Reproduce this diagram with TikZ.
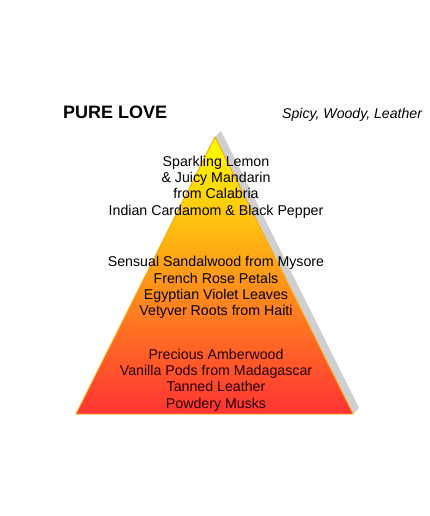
\documentclass[tikz,border=0pt]{standalone}
\usepackage{fontspec}
\setmainfont{Liberation Sans}
\begin{document}
\begin{tikzpicture}[x=1pt,y=-1pt,
  notes/.style={align=center,font=\fontsize{14.2}{16.3}\selectfont,text=black,inner sep=0pt},
  title/.style={anchor=base west,inner sep=0pt}]
\useasboundingbox[fill=white] (0,0) rectangle (430,516);
% shadow
\fill[gray!38] (221,131) -- (359,408) -- (353,414) -- (215,137) -- cycle;
% pyramid
\shade[top color=yellow, middle color=orange!85!yellow, bottom color=red!80!white]
  (215,137) -- (353,414) -- (76,414) -- cycle;
\draw[orange!70!yellow, line width=0.9pt, line join=round] (215,137) -- (353,414) -- (76,414) -- cycle;
% titles
\node[title,font=\bfseries\fontsize{18}{18}\selectfont] (name) at (63,118) {PURE LOVE};
\node[title,font=\itshape\fontsize{14.1}{14}\selectfont] (desc) at (282,118) {Spicy, Woody, Leather};
% notes
\node[notes] (top) at (216,187) {Sparkling Lemon\\\& Juicy Mandarin\\from Calabria\\Indian Cardamom \& Black Pepper};
\node[notes] (heart) at (216,287.5) {Sensual Sandalwood from Mysore\\French Rose Petals\\Egyptian Violet Leaves\\Vetyver Roots from Haiti};
\node[notes,text=black!85!red] (base) at (216,380) {Precious Amberwood\\Vanilla Pods from Madagascar\\Tanned Leather\\Powdery Musks};
\end{tikzpicture}
\end{document}
